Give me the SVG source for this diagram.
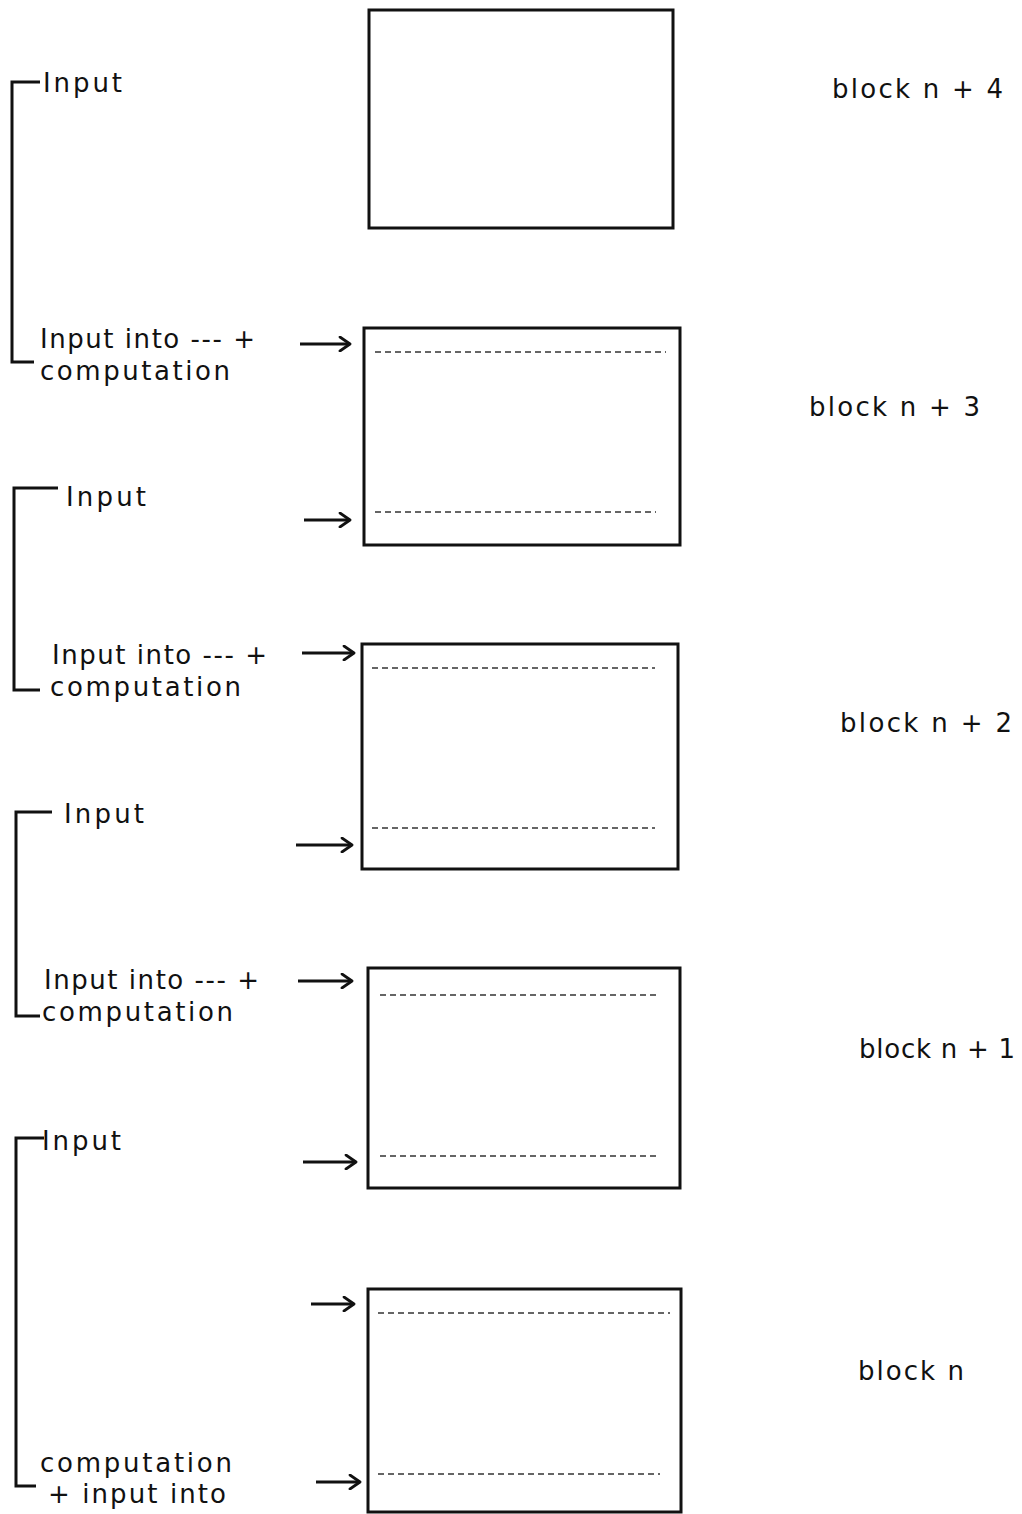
<svg xmlns="http://www.w3.org/2000/svg" width="1022" height="1514" viewBox="0 0 1022 1514">
  <defs>
    <marker id="arrow" markerWidth="14" markerHeight="16" refX="12" refY="8" orient="auto" markerUnits="userSpaceOnUse">
      <path d="M2,1 L12,8 L2,15" fill="none" stroke="#111" stroke-width="2.8" stroke-linecap="round" stroke-linejoin="round"/>
    </marker>
    <style>
      .box { fill: #fff; stroke: #111; stroke-width: 3; }
      .dash { stroke: #333; stroke-width: 1.6; stroke-dasharray: 6 4; fill: none; }
      .arr { stroke: #111; stroke-width: 2.8; fill: none; marker-end: url(#arrow); }
      .brk { stroke: #111; stroke-width: 3; fill: none; }
      .lbl { font-family: "DejaVu Sans", "Noto Sans", "Liberation Sans", sans-serif; font-size: 26px; fill: #111; }
    </style>
  </defs>
  <rect width="1022" height="1514" fill="#fff"/>

  <!-- blocks -->
  <g id="block-n4">
    <rect class="box" x="369" y="10" width="304" height="218"/>
    <text class="lbl" x="832" y="98" textLength="171" lengthAdjust="spacing">block n + 4</text>
  </g>
  <g id="block-n3">
    <rect class="box" x="364" y="328" width="316" height="217"/>
    <line class="dash" x1="375" y1="352" x2="666" y2="352"/>
    <line class="dash" x1="375" y1="512" x2="656" y2="512"/>
    <text class="lbl" x="809" y="416" textLength="171" lengthAdjust="spacing">block n + 3</text>
  </g>
  <g id="block-n2">
    <rect class="box" x="362" y="644" width="316" height="225"/>
    <line class="dash" x1="372" y1="668" x2="655" y2="668"/>
    <line class="dash" x1="372" y1="828" x2="655" y2="828"/>
    <text class="lbl" x="840" y="732" textLength="172" lengthAdjust="spacing">block n + 2</text>
  </g>
  <g id="block-n1">
    <rect class="box" x="368" y="968" width="312" height="220"/>
    <line class="dash" x1="380" y1="995" x2="660" y2="995"/>
    <line class="dash" x1="380" y1="1156" x2="660" y2="1156"/>
    <text class="lbl" x="859" y="1058" textLength="156" lengthAdjust="spacing">block n + 1</text>
  </g>
  <g id="block-n">
    <rect class="box" x="368" y="1289" width="313" height="223"/>
    <line class="dash" x1="378" y1="1313" x2="670" y2="1313"/>
    <line class="dash" x1="378" y1="1474" x2="660" y2="1474"/>
    <text class="lbl" x="858" y="1380" textLength="106" lengthAdjust="spacing">block n</text>
  </g>

  <!-- input / computation phases -->
  <g id="phase-1">
    <path class="brk" d="M40,82 H12 V362 H34"/>
    <text class="lbl" x="43" y="92" textLength="79" lengthAdjust="spacing">Input</text>
    <text class="lbl" x="40" y="348" textLength="215" lengthAdjust="spacing">Input into --- +</text>
    <text class="lbl" x="40" y="380" textLength="190" lengthAdjust="spacing">computation</text>
  </g>
  <g id="phase-2">
    <path class="brk" d="M58,488 H14 V690 H40"/>
    <text class="lbl" x="66" y="506" textLength="80" lengthAdjust="spacing">Input</text>
    <text class="lbl" x="52" y="664" textLength="215" lengthAdjust="spacing">Input into --- +</text>
    <text class="lbl" x="50" y="696" textLength="191" lengthAdjust="spacing">computation</text>
  </g>
  <g id="phase-3">
    <path class="brk" d="M52,812 H16 V1016 H40"/>
    <text class="lbl" x="64" y="823" textLength="80" lengthAdjust="spacing">Input</text>
    <text class="lbl" x="44" y="989" textLength="215" lengthAdjust="spacing">Input into --- +</text>
    <text class="lbl" x="42" y="1021" textLength="191" lengthAdjust="spacing">computation</text>
  </g>
  <g id="phase-4">
    <path class="brk" d="M44,1138 H16 V1486 H36"/>
    <text class="lbl" x="42" y="1150" textLength="79" lengthAdjust="spacing">Input</text>
    <text class="lbl" x="40" y="1472" textLength="192" lengthAdjust="spacing">computation</text>
    <text class="lbl" x="48" y="1503" textLength="178" lengthAdjust="spacing">+ input into</text>
  </g>

  <!-- connectors -->
  <g id="connectors">
    <line class="arr" x1="300" y1="344" x2="350" y2="344"/>
    <line class="arr" x1="304" y1="520" x2="350" y2="520"/>
    <line class="arr" x1="302" y1="653" x2="354" y2="653"/>
    <line class="arr" x1="296" y1="845" x2="352" y2="845"/>
    <line class="arr" x1="298" y1="981" x2="352" y2="981"/>
    <line class="arr" x1="303" y1="1162" x2="356" y2="1162"/>
    <line class="arr" x1="311" y1="1304" x2="354" y2="1304"/>
    <line class="arr" x1="316" y1="1482" x2="360" y2="1482"/>
  </g>
</svg>
